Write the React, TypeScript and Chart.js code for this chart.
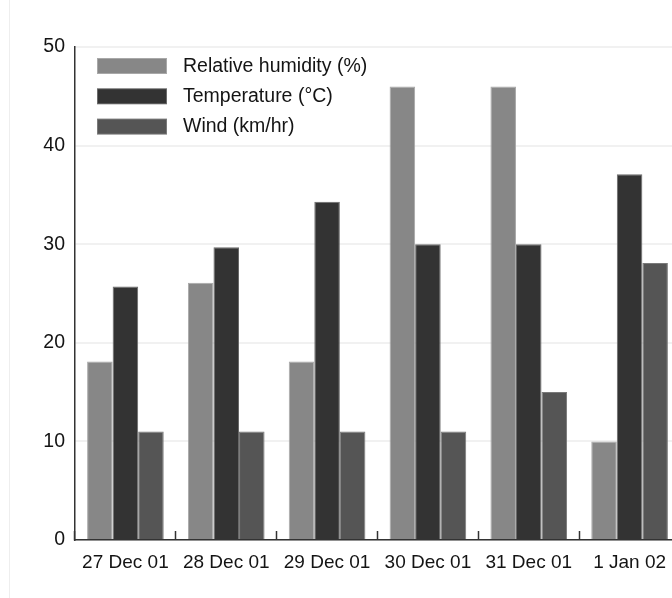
import React, { useEffect, useRef } from "react";
import { Chart, registerables } from "chart.js";

Chart.register(...registerables);

const categories = ["27 Dec 01", "28 Dec 01", "29 Dec 01", "30 Dec 01", "31 Dec 01", "1 Jan 02"];
const humidity = [18.1, 26.1, 18.1, 46, 46, 10];
const temperature = [25.7, 29.7, 34.3, 30, 30, 37.1];
const wind = [11, 11, 11, 11, 15, 28.1];
const seriesLabels = ["Relative humidity (%)", "Temperature (\u00B0C)", "Wind (km/hr)"];
const yTicks = [0, 10, 20, 30, 40, 50];

const FONT = "'Liberation Sans', Arial, sans-serif";

const insideLegend = {
  id: "insideLegend",
  afterDraw(chart: any) {
    const { ctx, chartArea } = chart;
    ctx.save();
    ctx.font = `19.5px ${FONT}`;
    ctx.textBaseline = "middle";
    ctx.textAlign = "left";
    chart.data.datasets.forEach((ds: any, i: number) => {
      const bx = chartArea.left + 22;
      const by = chartArea.top + 11 + i * 30.3;
      ctx.fillStyle = ds.borderColor;
      ctx.fillRect(bx, by, 70, 16);
      ctx.fillStyle = ds.backgroundColor;
      ctx.fillRect(bx + 1, by + 1, 68, 14);
      ctx.fillStyle = "#141414";
      ctx.fillText(ds.label, bx + 86, by + 8.5);
    });
    ctx.restore();
  },
};

export default function App() {
  const ref = useRef<HTMLCanvasElement | null>(null);
  useEffect(() => {
    if (!ref.current) return;
    const chart = new Chart(ref.current, {
      type: "bar",
      data: {
        labels: categories,
        datasets: [
          { label: seriesLabels[0], data: humidity, backgroundColor: "#878787", borderColor: "#a8a8a8", borderWidth: 1 },
          { label: seriesLabels[1], data: temperature, backgroundColor: "#333333", borderColor: "#6a6a6a", borderWidth: 1 },
          { label: seriesLabels[2], data: wind, backgroundColor: "#555555", borderColor: "#7a7a7a", borderWidth: 1 },
        ],
      },
      options: {
        animation: false,
        responsive: false,
        maintainAspectRatio: false,
        layout: { padding: { left: 0, top: 47, right: 30, bottom: 0 } },
        datasets: { bar: { categoryPercentage: 0.76, barPercentage: 1.0 } },
        plugins: { legend: { display: false }, tooltip: { enabled: false } },
        scales: {
          x: {
            afterFit: (s: any) => { s.height = 58; },
            grid: {
              drawOnChartArea: false,
              drawTicks: true,
              tickLength: -9,
              tickColor: "#333",
              tickWidth: 1.5,
            },
            border: { display: true, color: "#333", width: 1.5 },
            ticks: { color: "#141414", font: { family: FONT, size: 19 }, padding: 20, maxRotation: 0, autoSkip: false },
          },
          y: {
            min: 0,
            max: 50,
            afterFit: (s: any) => { s.width = 65; },
            afterBuildTicks: (s: any) => { s.ticks = yTicks.map((v) => ({ value: v })); },
            grid: { color: "#f1f1f1", lineWidth: 2, drawTicks: false },
            border: { display: true, color: "#333", width: 1.5 },
            ticks: { color: "#141414", font: { family: FONT, size: 19.5 }, padding: 10 },
          },
        },
      },
      plugins: [insideLegend],
    });
    return () => chart.destroy();
  }, []);
  return (
    <div
      style={{
        position: "absolute",
        left: 9,
        top: 0,
        width: 663,
        height: 598,
        overflow: "hidden",
        borderLeft: "1px solid #eeeeee",
        boxSizing: "border-box",
        background: "#fff",
      }}
    >
      <canvas ref={ref} width={700} height={598} style={{ display: "block", width: 700, height: 598 }} />
    </div>
  );
}
